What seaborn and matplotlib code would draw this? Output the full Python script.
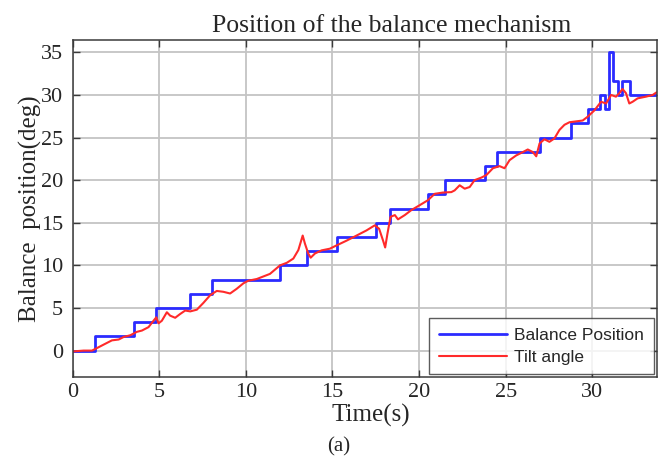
import matplotlib
matplotlib.use("Agg")
import matplotlib.pyplot as plt
import seaborn as sns
import pandas as pd

# Balance mechanism set-point (piecewise constant)
balance_time = [0, 1.31, 3.52, 4.81, 6.79, 8.03, 11.97, 13.54, 15.27, 17.5, 18.3,
                20.5, 21.5, 23.78, 24.49, 27.0, 28.77, 29.73, 30.46, 30.73, 30.98,
                31.2, 31.5, 31.7, 32.15, 33.7]
balance_pos = [0, 1.67, 3.33, 5.0, 6.67, 8.33, 10.0, 11.67, 13.33, 15.0, 16.67,
               18.33, 20.0, 21.67, 23.33, 25.0, 26.67, 28.33, 30.0, 28.33, 35.0,
               31.67, 30.0, 31.67, 30.0, 30.0]

# Measured tilt angle
tilt_time = [0.0, 0.64, 1.12, 1.41, 1.79, 2.27, 2.66, 2.95, 3.33, 3.71, 4.0, 4.38,
             4.67, 4.83, 4.96, 5.15, 5.44, 5.63, 5.92, 6.21, 6.5, 6.79, 7.17, 7.55,
             7.94, 8.32, 8.7, 9.09, 9.47, 9.86, 10.14, 10.63, 11.01, 11.39, 11.68,
             11.97, 12.36, 12.74, 13.03, 13.28, 13.41, 13.6, 13.74, 13.99, 14.37,
             14.85, 15.24, 15.81, 16.39, 16.96, 17.44, 17.69, 17.92, 18.04, 18.17,
             18.35, 18.6, 18.78, 19.17, 19.56, 20.03, 20.51, 20.9, 21.38, 21.86,
             22.05, 22.34, 22.63, 22.92, 23.2, 23.59, 23.88, 24.26, 24.64, 24.93,
             25.22, 25.6, 25.99, 26.27, 26.56, 26.76, 26.95, 27.23, 27.52, 27.81,
             28.1, 28.39, 28.68, 29.06, 29.44, 29.73, 30.12, 30.5, 30.79, 31.08,
             31.36, 31.55, 31.74, 31.94, 32.13, 32.32, 32.61, 33.09, 33.48, 33.7]
tilt_angle = [-0.1, 0.0, 0.0, 0.3, 0.7, 1.2, 1.3, 1.6, 1.8, 2.2, 2.35, 2.75, 3.5,
              3.9, 3.2, 3.5, 4.5, 4.1, 3.85, 4.3, 4.7, 4.6, 4.8, 5.6, 6.5, 7.0, 6.9,
              6.7, 7.25, 7.9, 8.2, 8.4, 8.7, 9.0, 9.5, 10.0, 10.3, 10.8, 11.8, 13.5,
              12.55, 11.4, 10.9, 11.4, 11.76, 11.96, 12.35, 12.9, 13.5, 14.1, 14.7,
              14.3, 12.9, 12.1, 13.7, 15.7, 15.9, 15.4, 15.9, 16.5, 17.06, 17.65,
              18.4, 18.55, 18.6, 18.8, 19.4, 19.0, 19.2, 20.0, 20.3, 20.6, 21.4,
              21.65, 21.4, 22.35, 22.9, 23.3, 23.6, 23.3, 22.8, 24.3, 24.8, 24.5,
              24.9, 25.9, 26.5, 26.8, 26.9, 27.0, 27.45, 28.2, 29.2, 29.0, 30.0,
              29.8, 30.2, 30.7, 30.2, 29.0, 29.2, 29.6, 29.8, 30.0, 30.3]

x_ticks = [0, 5, 10, 15, 20, 25, 30]
y_ticks = [0, 5, 10, 15, 20, 25, 30, 35]

sns.set_theme(style="white")
plt.rcParams["font.family"] = ["Liberation Serif", "DejaVu Serif"]

df_bal = pd.DataFrame({"t": balance_time, "v": balance_pos})
df_tilt = pd.DataFrame({"t": tilt_time, "v": tilt_angle})

fig = plt.figure(figsize=(6.66, 4.63), dpi=100)
ax = fig.add_axes([72.6 / 666, 1 - 377 / 463, (656.5 - 72.6) / 666, (377 - 40) / 463])

sns.lineplot(data=df_bal, x="t", y="v", ax=ax, color="#2b2bff", lw=2.0,
             drawstyle="steps-post", estimator=None, sort=False,
             label="Balance Position")
sns.lineplot(data=df_tilt, x="t", y="v", ax=ax, color="#ff2a2a", lw=1.5,
             estimator=None, sort=False, label="Tilt angle")

ax.set_xlim(0, 33.7)
ax.set_ylim(-3.1, 36.45)
ax.set_xticks(x_ticks)
ax.set_yticks(y_ticks)
ax.set_xticklabels([str(v) for v in x_ticks], fontsize=16)
ax.set_yticklabels([str(v) for v in y_ticks], fontsize=16)
ax.grid(True, color="#c4c4c4", lw=1.3)
ax.set_axisbelow(True)
for s in ax.spines.values():
    s.set_color("#3a3a3a")
    s.set_linewidth(1.1)
    s.set_visible(True)
ax.tick_params(direction="in", length=5, width=1, color="#3a3a3a",
               top=True, right=True, bottom=True, left=True)
ax.tick_params(axis="y", pad=7)
ax.tick_params(axis="x", pad=4)

ax.set_title("Position of the balance mechanism", fontsize=18.5, pad=6, x=0.547)
ax.set_xlabel("Time(s)", fontsize=18, labelpad=2, x=0.51)
ax.set_ylabel("Balance  position(deg)", fontsize=18, labelpad=-1)

leg = ax.legend(loc="lower right", prop={"family": "Liberation Sans", "size": 12.5},
                frameon=True, fancybox=False, edgecolor="#333333",
                handlelength=3.9, borderpad=0.55, labelspacing=0.4,
                borderaxespad=0.15, handletextpad=0.45)
leg.get_frame().set_linewidth(1.0)

fig.text(0.508, 1 - 447 / 463, "(a)", ha="center", va="center", fontsize=15)

fig.savefig("out.png", dpi=100)
